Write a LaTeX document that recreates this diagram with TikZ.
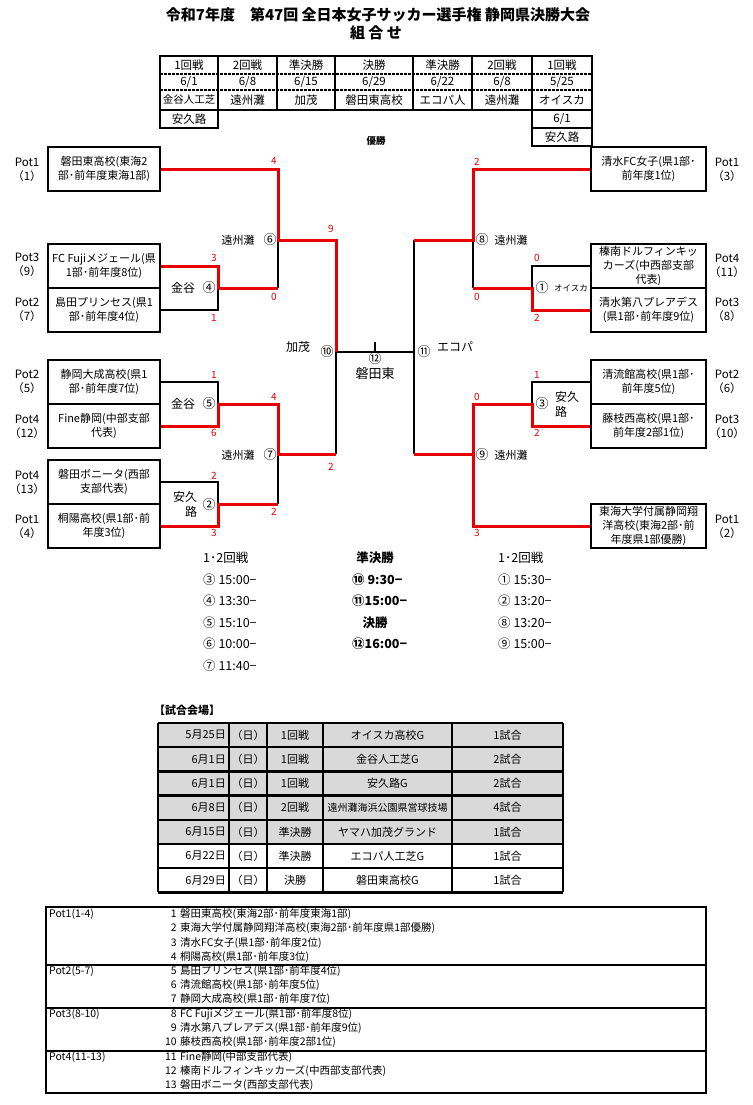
\documentclass[tikz,border=0pt]{standalone}
\usepackage{fontspec}
\setmainfont{Noto Sans CJK JP}
\definecolor{bred}{RGB}{232,0,0}
\definecolor{tgray}{RGB}{217,217,217}
\newcommand\myfs[2]{\fontsize{#1}{#2}\selectfont}
\begin{document}
\begin{tikzpicture}[x=1pt,y=-1pt,
 team/.style={draw, line width=2pt, minimum width=112pt, minimum height=44pt, inner sep=0pt, align=center, font=\myfs{11}{14}},
 teamr/.style={team, minimum width=115pt},
 pot/.style={align=center, font=\myfs{11.5}{14}, inner sep=0pt},
 bl/.style={line width=2pt, black},
 rd/.style={line width=3pt, bred},
 sc/.style={text=bred, font=\myfs{10}{10}, inner sep=0pt},
 lab/.style={font=\myfs{11}{12}, inner sep=0pt},
 cn/.style={font=\myfs{13}{13}, inner sep=0pt},
 hd/.style={font=\myfs{11.5}{12}, inner sep=0pt},
 sch/.style={font=\myfs{12.5}{13}, inner sep=0pt, anchor=west},
 schb/.style={font=\bfseries\myfs{12.5}{13}, inner sep=0pt},
 vt/.style={font=\myfs{11}{12}, inner sep=0pt},
 pl/.style={font=\myfs{10.5}{11}, inner sep=0pt, anchor=west},
]
\fill[white] (0,0) rectangle (752,1105);
\useasboundingbox (0,0) rectangle (752,1105);

% ---------- title
\node[font=\bfseries\myfs{15}{18}] (title) at (378,15) {令和7年度　第47回 全日本女子サッカー選手権 静岡県決勝大会};
\node[font=\bfseries\myfs{15}{18}] (title2) at (376,33) {組 合 せ};

% ---------- header table
\draw[line width=1.1pt, dash pattern=on 2.5pt off 1.5pt] (160,74) -- (592,74) (160,90) -- (592,90);
\draw[line width=2pt] (160,56) rectangle (592,110);
\foreach \x in {218,277,335,413,472,532} \draw[line width=2pt] (\x,56) -- (\x,110);
\draw[line width=2pt] (160,110) rectangle (218,128);
\draw[line width=2pt] (532,110) rectangle (592,146) (532,128) -- (592,128);
\foreach \x/\a/\b/\c [count=\i] in {189/1回戦/6\slash1/金谷人工芝, 247.5/2回戦/6\slash8/遠州灘, 306/準決勝/6\slash15/加茂, 374/決勝/6\slash29/磐田東高校, 442.5/準決勝/6\slash22/エコパ人, 502/2回戦/6\slash8/遠州灘, 562/1回戦/5\slash25/オイスカ}{
  \node[hd] (ha\i) at (\x,65) {\a};
  \node[hd] (hb\i) at (\x,82) {\b};
  \node[hd] (hc\i) at (\x,100) {\ifnum\i=1 \myfs{10.5}{12}\fi\c};
}
\node[hd] (hd1) at (189,119) {安久路};
\node[hd] (hd2) at (562,119) {6/1};
\node[hd] (hd3) at (562,137) {安久路};
\node[font=\bfseries\myfs{9.5}{10}] (yusho) at (376,141) {優勝};

% ---------- teams
\node[team] (L1) at (104,169) {磐田東高校(東海2\\部･前年度東海1部)};
\node[team] (L2) at (104,266) {FC Fujiメジェール(県\\1部･前年度8位)};
\node[team] (L3) at (104,310) {島田プリンセス(県1\\部･前年度4位)};
\node[team] (L4) at (104,382) {静岡大成高校(県1\\部･前年度7位)};
\node[team] (L5) at (104,426) {Fine静岡(中部支部\\代表)};
\node[team] (L6) at (104,482) {磐田ボニータ(西部\\支部代表)};
\node[team] (L7) at (104,526) {桐陽高校(県1部･前\\年度3位)};
\node[teamr] (R1) at (648.5,169) {清水FC女子(県1部･\\前年度1位)};
\node[teamr] (R2) at (648.5,266) {榛南ドルフィンキッ\\カーズ(中西部支部\\代表)};
\node[teamr] (R3) at (648.5,310) {清水第八プレアデス\\(県1部･前年度9位)};
\node[teamr] (R4) at (648.5,382) {清流館高校(県1部･\\前年度5位)};
\node[teamr] (R5) at (648.5,426) {藤枝西高校(県1部･\\前年度2部1位)};
\node[teamr] (R6) at (648.5,526) {東海大学付属静岡翔\\洋高校(東海2部･前\\年度県1部優勝)};

% pot labels
\foreach \x/\y/\a/\b [count=\i] in {27/170/1/1, 27/265/3/9, 27/310/2/7, 27/382/2/5, 27/427/4/12, 27/483/4/13, 27/527/1/4,
  727/170/1/3, 727/266/4/11, 727/310/3/8, 727/382/2/6, 727/427/3/10, 727/527/1/2}
  \node[pot] (pot\i) at (\x,\y) {Pot\a\\（\b）};

% ---------- bracket coordinates
\coordinate (m4) at (218,288);
\coordinate (m6) at (278,240);
\coordinate (m5) at (218,404);
\coordinate (m2) at (218,504);
\coordinate (m7) at (278,454);
\coordinate (m10) at (336,352);
\coordinate (m12) at (375,352);
\coordinate (m11) at (414,352);
\coordinate (m8) at (473,240);
\coordinate (m1) at (532,288);
\coordinate (m3) at (532,404);
\coordinate (m9) at (473,454);

% black lines
\draw[bl] (L3.east) -| (m4);
\draw[bl] (m6 |- m4) -- (m6);
\draw[bl] (L4.east) -| (m5);
\draw[bl] (L6.east) -| (m2);
\draw[bl] (m7) -- (m7 |- m2);
\draw[bl] (m10) -- (m10 |- m7);
\draw[bl] (m10) -- (m11);
\draw[bl] (m12) -- ++(0,-10);
\draw[bl] (m11 |- m8) -- (m11 |- m9);
\draw[bl] (R2.west) -| (m1);
\draw[bl] (m8 |- m1) -- (m8);
\draw[bl] (R4.west) -| (m3);

% red lines
\draw[rd] (L1.east) -| (m6) -- (m10 |- m6) -- (m10);
\draw[rd] (L2.east) -| (m4) -- (m6 |- m4);
\draw[rd] (L5.east) -| (m5) -- (m7 |- m5) -- (m7) -- (m10 |- m7);
\draw[rd] (L7.east) -| (m2) -- (m7 |- m2);
\draw[rd] (R1.west) -| (m8) -- (m11 |- m8);
\draw[rd] (R3.west) -| (m1) -- (m8 |- m1);
\draw[rd] (R5.west) -| (m3) -- (m9 |- m3) -- (m9);
\draw[rd] (R6.west) -| (m9) -- (m11 |- m9);

% scores
\foreach \x/\y/\t [count=\i] in {274/161/4, 214/258/3, 274/297/0, 214/318/1, 331/229/9, 214/375/1, 214/433/6, 274/397/4, 214/476/2, 214/533/3, 274/512/2, 331/467/2,
  477/162/2, 477/297/0, 537/258/0, 537/318/2, 537/375/1, 537/433/2, 477/397/0, 477/533/3}
  \node[sc] (s\i) at (\x,\y) {\t};

% match labels
\node[lab] (v6) at (238,240) {遠州灘};
\node[cn] (c6) at (270,240) {⑥};
\node[font=\myfs{12}{13}, inner sep=0] (v4) at (183,288) {金谷};
\node[cn] (c4) at (209,288) {④};
\node[font=\myfs{12}{13}, inner sep=0] (v5) at (183,404) {金谷};
\node[cn] (c5) at (209,404) {⑤};
\node[font=\myfs{12}{13}, inner sep=0] (v2a) at (185,497) {安久};
\node[font=\myfs{12}{13}, inner sep=0] (v2b) at (191,512) {路};
\node[cn] (c2) at (209,505) {②};
\node[lab] (v7) at (238,455) {遠州灘};
\node[cn] (c7) at (270,455) {⑦};
\node[font=\myfs{12}{13}, inner sep=0] (v10) at (298,347) {加茂};
\node[cn] (c10) at (327,352) {⑩};
\node[cn] (c12) at (375,359) {⑫};
\node[font=\myfs{13}{13}, inner sep=0] (v12) at (375,374) {磐田東};
\node[cn] (c11) at (424,352) {⑪};
\node[font=\myfs{12}{13}, inner sep=0] (v11) at (455,347) {エコパ};
\node[cn] (c8) at (482,240) {⑧};
\node[lab] (v8) at (511,240) {遠州灘};
\node[cn] (c1) at (542,288) {①};
\node[font=\myfs{8.5}{9}, inner sep=0] (v1) at (571,288) {オイスカ};
\node[cn] (c3) at (542,404) {③};
\node[font=\myfs{12}{13}, inner sep=0] (v3a) at (567,397) {安久};
\node[font=\myfs{12}{13}, inner sep=0] (v3b) at (561,412) {路};
\node[cn] (c9) at (482,455) {⑨};
\node[lab] (v9) at (511,455) {遠州灘};

% ---------- schedule
\foreach \y/\t [count=\i] in {558/1･2回戦, 580/③ 15:00−, 601/④ 13:30−, 623/⑤ 15:10−, 644/⑥ 10:00−, 666/⑦ 11:40−}
  \node[sch] (sl\i) at (203,\y) {\t};
\foreach \y/\t [count=\i] in {558/1･2回戦, 580/① 15:30−, 601/② 13:20−, 623/⑧ 13:20−, 644/⑨ 15:00−}
  \node[sch] (sr\i) at (498,\y) {\t};
\node[schb] (sm1) at (375,558) {準決勝};
\node[schb, anchor=west] (sm2) at (352,580) {⑩ 9:30−};
\node[schb, anchor=west] (sm3) at (352,601) {⑪15:00−};
\node[schb] (sm4) at (375,623) {決勝};
\node[schb, anchor=west] (sm5) at (352,644) {⑫16:00−};

% ---------- venue table
\node[font=\bfseries\myfs{11}{12}, inner sep=0, anchor=west] (vhead) at (154,710) {【試合会場】};
\fill[tgray] (158,723) rectangle (563,844);
\foreach \r [evaluate=\r as \yy using 723+24.2*\r] in {0,...,7}
  \draw[line width=2.4pt] (158,\yy) -- (563,\yy);
\foreach \x in {158,229,267,323,452,563}
  \draw[line width=2.4pt] (\x,723) -- (\x,892.4);
\foreach \d/\r/\v/\g [count=\i] in {5月25日/1回戦/オイスカ高校G/1試合, 6月1日/1回戦/金谷人工芝G/2試合, 6月1日/1回戦/安久路G/2試合, 6月8日/2回戦/{\myfs{10}{11}遠州灘海浜公園県営球技場}/4試合, 6月15日/準決勝/ヤマハ加茂グランド/1試合, 6月22日/準決勝/エコパ人工芝G/1試合, 6月29日/決勝/磐田東高校G/1試合}{
  \pgfmathsetmacro\yc{723+24.2*(\i-1)+12.1}
  \node[vt, anchor=east] (vd\i) at (226,\yc) {\d};
  \node[vt] (vw\i) at (248,\yc) {（日）};
  \node[vt] (vr\i) at (295,\yc) {\r};
  \node[vt] (vv\i) at (387.5,\yc) {\v};
  \node[vt] (vg\i) at (507.5,\yc) {\g};
}

% ---------- pot list
\draw[line width=2pt] (46,907) rectangle (706,1093);
\foreach \y in {964.5,1007.5,1050.5} \draw[line width=2pt] (46,\y) -- (706,\y);
\foreach \y/\t [count=\i] in {914/Pot1(1-4), 971/Pot2(5-7), 1014/Pot3(8-10), 1057/Pot4(11-13)}
  \node[pl] (ph\i) at (49,\y) {\t};
\foreach \y/\n/\t [count=\i] in {914/1/磐田東高校(東海2部･前年度東海1部), 928/2/東海大学付属静岡翔洋高校(東海2部･前年度県1部優勝), 943/3/清水FC女子(県1部･前年度2位), 957/4/桐陽高校(県1部･前年度3位),
  971/5/島田プリンセス(県1部･前年度4位), 985/6/清流館高校(県1部･前年度5位), 999/7/静岡大成高校(県1部･前年度7位),
  1014/8/FC Fujiメジェール(県1部･前年度8位), 1028/9/清水第八プレアデス(県1部･前年度9位), 1042/10/藤枝西高校(県1部･前年度2部1位),
  1057/11/Fine静岡(中部支部代表), 1071/12/榛南ドルフィンキッカーズ(中西部支部代表), 1085/13/磐田ボニータ(西部支部代表)}{
  \node[pl, anchor=east] (pn\i) at (177,\y) {\n};
  \node[pl] (pt\i) at (180,\y) {\t};
}
\end{tikzpicture}
\end{document}
